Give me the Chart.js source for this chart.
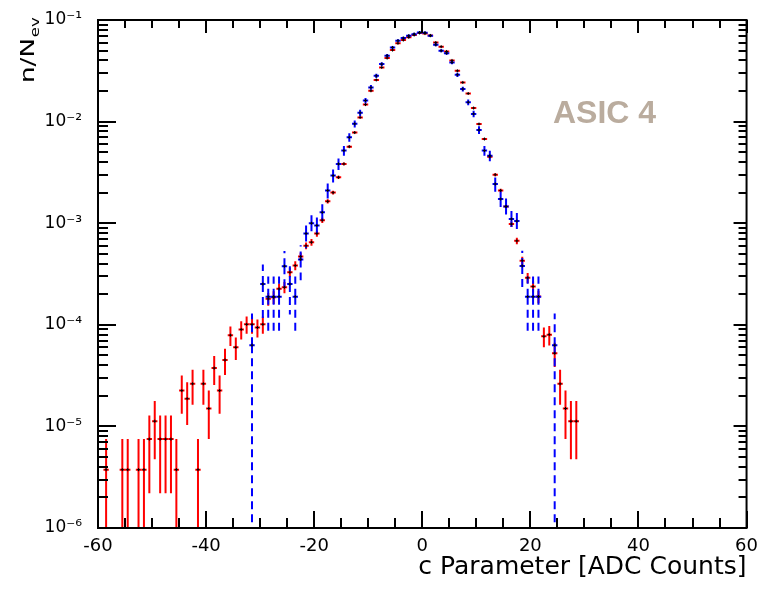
<!DOCTYPE html>
<html>
<head>
<meta charset="utf-8">
<script src="https://cdn.jsdelivr.net/npm/chart.js@4.4.1/dist/chart.umd.min.js"></script>
<style>html,body{margin:0;padding:0;background:#fff}canvas{display:block}</style>
</head>
<body>
<canvas id="c" width="758" height="593"></canvas>
<script>
// ---- data (bin centres, values n/N_ev, symmetric errors) ----
const redX = [-58.5,-55.5,-54.5,-52.5,-51.5,-50.5,-49.5,-48.5,-47.5,-46.5,-45.5,-44.5,-43.5,-42.5,-41.5,-40.5,-39.5,-38.5,-37.5,-36.5,-35.5,-34.5,-33.5,-32.5,-31.5,-30.5,-29.5,
  -28.5,-27.5,-26.5,-25.5,-24.5,-23.5,-22.5,-21.5,-20.5,-19.5,-18.5,-17.5,-16.5,-15.5,-14.5,-13.5,-12.5,-11.5,-10.5,-9.5,-8.5,-7.5,-6.5,-5.5,-4.5,-3.5,-2.5,-1.5,-0.5,
  0.5,1.5,2.5,3.5,4.5,5.5,6.5,7.5,8.5,9.5,10.5,11.5,12.5,13.5,14.5,15.5,16.5,17.5,18.5,19.5,20.5,21.5,22.5,23.5,24.5,25.5,26.5,27.5,28.5];
const redY = [3.75e-6,3.75e-6,3.75e-6,3.75e-6,3.75e-6,7.5e-6,1.125e-5,7.5e-6,7.5e-6,7.5e-6,3.75e-6,2.25e-5,1.875e-5,2.625e-5,3.75e-6,2.625e-5,1.5e-5,3.75e-5,2.25e-5,4.5e-5,7.9e-5,6.0e-5,9.0e-5,1.01e-4,1.01e-4,9.4e-5,1.01e-4,
  1.80e-4,1.87e-4,2.26e-4,2.34e-4,3.29e-4,3.83e-4,4.7e-4,6.0e-4,6.5e-4,7.9e-4,1.07e-3,1.64e-3,2.0e-3,2.83e-3,3.83e-3,5.66e-3,7.8e-3,1.1e-2,1.47e-2,2.01e-2,2.57e-2,3.41e-2,4.22e-2,5.06e-2,5.9e-2,6.35e-2,6.75e-2,7.12e-2,7.45e-2,
  7.35e-2,7.05e-2,6.0e-2,5.46e-2,4.9e-2,4.0e-2,3.16e-2,2.43e-2,1.89e-2,1.36e-2,9.46e-3,6.74e-3,4.5e-3,3.0e-3,2.1e-3,1.46e-3,9.8e-4,6.7e-4,4.28e-4,2.9e-4,2.38e-4,1.9e-4,7.7e-5,8.0e-5,5.25e-5,2.625e-5,1.5e-5,1.125e-5,1.125e-5];
const redErr = [3.75e-6,3.75e-6,3.75e-6,3.75e-6,3.75e-6,5.3e-6,6.5e-6,5.3e-6,5.3e-6,5.3e-6,3.75e-6,9.2e-6,8.4e-6,9.9e-6,3.75e-6,9.9e-6,7.5e-6,1.19e-5,9.2e-6,1.3e-5,1.72e-5,1.5e-5,1.84e-5,1.95e-5,1.95e-5,1.88e-5,1.95e-5,
  2.6e-5,2.65e-5,2.9e-5,2.96e-5,3.5e-5,3.8e-5,4.2e-5,4.74e-5,4.94e-5,5.44e-5,6.33e-5,7.84e-5,8.66e-5,1.03e-4,1.2e-4,1.46e-4,1.71e-4,2.03e-4,2.35e-4,2.75e-4,3.1e-4,3.58e-4,3.98e-4,4.36e-4,4.7e-4,4.88e-4,5.03e-4,5.17e-4,5.29e-4,
  5.25e-4,5.14e-4,4.74e-4,4.52e-4,4.29e-4,3.87e-4,3.44e-4,3.02e-4,2.66e-4,2.26e-4,1.88e-4,1.59e-4,1.3e-4,1.06e-4,8.87e-5,7.4e-5,6.06e-5,5.0e-5,4.0e-5,3.3e-5,2.99e-5,2.67e-5,1.7e-5,1.73e-5,1.4e-5,9.9e-6,7.5e-6,6.5e-6,6.5e-6];

const blueX = [-31.5,-29.5,-28.5,-27.5,-26.5,-25.5,-24.5,-23.5,-22.5,-21.5,-20.5,-19.5,-18.5,-17.5,-16.5,-15.5,-14.5,-13.5,-12.5,-11.5,-10.5,
  -9.5,-8.5,-7.5,-6.5,-5.5,-4.5,-3.5,-2.5,-1.5,-0.5,0.5,1.5,2.5,3.5,4.5,5.5,6.5,7.5,8.5,9.5,
  10.5,11.5,12.5,13.5,14.5,15.5,16.5,17.5,18.5,19.5,20.5,21.5,24.5];
const blueY = [6.3e-5,2.52e-4,1.89e-4,1.89e-4,1.89e-4,3.78e-4,2.52e-4,1.89e-4,4.4e-4,7.9e-4,1.0e-3,
  9.5e-4,1.28e-3,2.1e-3,2.94e-3,3.83e-3,5.18e-3,7.0e-3,9.5e-3,1.22e-2,1.61e-2,
  2.17e-2,2.82e-2,3.68e-2,4.45e-2,5.37e-2,6.25e-2,6.64e-2,7.0e-2,7.26e-2,7.53e-2,
  7.5e-2,7.0e-2,5.7e-2,4.98e-2,4.72e-2,3.82e-2,2.89e-2,2.09e-2,1.55e-2,1.19e-2,
  8.26e-3,5.18e-3,4.62e-3,2.43e-3,1.73e-3,1.46e-3,1.1e-3,1.05e-3,3.8e-4,1.89e-4,1.89e-4,1.89e-4,6.3e-5];
const blueErr = [6.6e-5,1.4e-4,1.09e-4,1.09e-4,1.09e-4,1.54e-4,1.26e-4,1.09e-4,1.66e-4,2.23e-4,2.51e-4,
  2.45e-4,2.84e-4,3.64e-4,4.3e-4,4.91e-4,5.71e-4,6.64e-4,7.74e-4,8.77e-4,1.01e-3,
  1.17e-3,1.33e-3,1.52e-3,1.67e-3,1.84e-3,1.98e-3,2.05e-3,2.1e-3,2.14e-3,2.18e-3,
  2.17e-3,2.1e-3,1.9e-3,1.77e-3,1.72e-3,1.55e-3,1.35e-3,1.15e-3,9.9e-4,8.7e-4,
  7.2e-4,5.7e-4,5.4e-4,3.9e-4,3.3e-4,3.0e-4,2.6e-4,2.6e-4,1.55e-4,1.09e-4,1.09e-4,1.09e-4,6.6e-5];

const binHalfWidth = 0.5;
const xMin = -60, xMax = 60, xMajorStep = 20, xMinorStep = 5;
const yDecades = [1e-6, 1e-5, 1e-4, 1e-3, 1e-2, 1e-1];
const yTickLabels = ['10\u207B\u2076','10\u207B\u2075','10\u207B\u2074','10\u207B\u00B3','10\u207B\u00B2','10\u207B\u00B9'];
const xTitle = 'c Parameter [ADC Counts]';
const yTitleMain = 'n/N', yTitleSub = 'ev';
const panelLabel = 'ASIC 4';

// ---- helpers ----
function pts(xs, ys, es) { return xs.map((x, i) => ({x: x, y: ys[i], e: es[i]})); }
function seg(ctx, x1, y1, x2, y2) { ctx.beginPath(); ctx.moveTo(x1, y1); ctx.lineTo(x2, y2); ctx.stroke(); }

const whiteBg = {
  id: 'whiteBg',
  beforeDraw(chart) { const c = chart.ctx; c.save(); c.fillStyle = '#fff'; c.fillRect(0, 0, chart.width, chart.height); c.restore(); }
};

const errorBars = {
  id: 'errorBars',
  beforeDatasetsDraw(chart) {
    const {ctx, chartArea: a, scales: {x, y}} = chart;
    ctx.save();
    ctx.beginPath(); ctx.rect(a.left, a.top, a.right - a.left, a.bottom - a.top); ctx.clip();
    chart.data.datasets.forEach(ds => {
      ctx.strokeStyle = ds.errColor; ctx.lineWidth = 2; ctx.lineCap = 'butt';
      ds.data.forEach(p => {
        const px = x.getPixelForValue(p.x), py = y.getPixelForValue(p.y);
        const top = y.getPixelForValue(p.y + p.e);
        const lo = p.y - p.e;
        const bot = lo > 0 ? y.getPixelForValue(lo) : a.bottom + 2;
        ctx.setLineDash(ds.errDash);
        seg(ctx, px, py, px, top);
        seg(ctx, px, py, px, bot);
        ctx.setLineDash([]);
        seg(ctx, x.getPixelForValue(p.x - binHalfWidth), py, x.getPixelForValue(p.x + binHalfWidth), py);
      });
    });
    ctx.restore();
  }
};

const frameTicks = {
  id: 'frameTicks',
  afterDatasetsDraw(chart) {
    const {ctx, chartArea: a, scales: {x, y}} = chart;
    ctx.save();
    ctx.strokeStyle = '#000'; ctx.lineWidth = 2; ctx.setLineDash([]);
    for (let v = xMin; v <= xMax + 1e-9; v += xMinorStep) {
      const px = Math.round(x.getPixelForValue(v));
      const major = Math.abs(v % xMajorStep) < 1e-9;
      seg(ctx, px, a.bottom, px, a.bottom - (major ? 17 : 10));
      seg(ctx, px, a.top, px, a.top + (major ? 13 : 8));
    }
    for (let d = 0; d < yDecades.length; d++) {
      for (let m = 1; m <= 9; m++) {
        const v = m * yDecades[d];
        if (v > yDecades[yDecades.length - 1] * 1.0001) break;
        const py = Math.round(y.getPixelForValue(v));
        const major = m === 1;
        seg(ctx, a.left, py, a.left + (major ? 18 : 10), py);
        seg(ctx, a.right, py, a.right - (major ? 13 : 8), py);
      }
    }
    ctx.strokeRect(a.left, a.top, a.right - a.left, a.bottom - a.top);
    ctx.restore();
  },
  afterDraw(chart) {
    const ctx = chart.ctx;
    ctx.save();
    // y-axis title with subscript
    ctx.fillStyle = '#000';
    ctx.translate(34, 83);
    ctx.rotate(-Math.PI / 2);
    ctx.scale(1.38, 1);
    ctx.textBaseline = 'alphabetic'; ctx.textAlign = 'left';
    ctx.font = '19px "DejaVu Sans"';
    ctx.fillText(yTitleMain, 0, 0);
    const w = ctx.measureText(yTitleMain).width;
    ctx.font = '12px "DejaVu Sans"';
    ctx.fillText(yTitleSub, w + 0.5, 5);
    ctx.restore();
    // panel label
    ctx.save();
    ctx.fillStyle = 'rgb(186,172,158)';
    ctx.font = 'bold 32px "Liberation Sans", Arial, sans-serif';
    ctx.textBaseline = 'alphabetic'; ctx.textAlign = 'left';
    ctx.fillText(panelLabel, 553, 123);
    ctx.restore();
  }
};

new Chart(document.getElementById('c'), {
  type: 'scatter',
  data: {
    datasets: [
      { label: 'red', data: pts(redX, redY, redErr), errColor: '#ff0000', errDash: [],
        pointStyle: 'cross', pointRadius: 1.5, borderColor: '#000', backgroundColor: '#000', borderWidth: 1, pointHoverRadius: 0 },
      { label: 'blue', data: pts(blueX, blueY, blueErr), errColor: '#0000ff', errDash: [8, 5],
        pointStyle: 'cross', pointRadius: 1.5, borderColor: '#000', backgroundColor: '#000', borderWidth: 1, pointHoverRadius: 0 }
    ]
  },
  options: {
    responsive: false, animation: false, devicePixelRatio: 1, events: [],
    layout: { padding: { top: 20, right: 4, left: 0, bottom: 0 } },
    plugins: { legend: { display: false }, tooltip: { enabled: false } },
    scales: {
      x: {
        type: 'linear', min: xMin, max: xMax,
        grid: { display: false }, border: { display: false },
        afterFit: s => { s.height = 65; },
        ticks: { stepSize: xMajorStep, autoSkip: false, maxRotation: 0, padding: 0, color: '#000',
                 font: { family: '"DejaVu Sans"', size: 18 } },
        title: { display: true, text: xTitle, align: 'end', color: '#000',
                 font: { family: '"DejaVu Sans"', size: 25 }, padding: { top: 0, bottom: 11 } }
      },
      y: {
        type: 'logarithmic', min: yDecades[0], max: yDecades[yDecades.length - 1],
        grid: { display: false }, border: { display: false },
        afterFit: s => { s.width = 98; },
        afterBuildTicks: s => { s.ticks = yDecades.map(v => ({ value: v })); },
        ticks: { autoSkip: false, padding: 8, color: '#000',
                 font: { family: '"DejaVu Sans"', size: 17 },
                 callback: (v) => { const i = yDecades.findIndex(d => Math.abs(d - v) / d < 1e-6); return i >= 0 ? yTickLabels[i] : ''; } }
      }
    }
  },
  plugins: [whiteBg, errorBars, frameTicks]
});
</script>
</body>
</html>
